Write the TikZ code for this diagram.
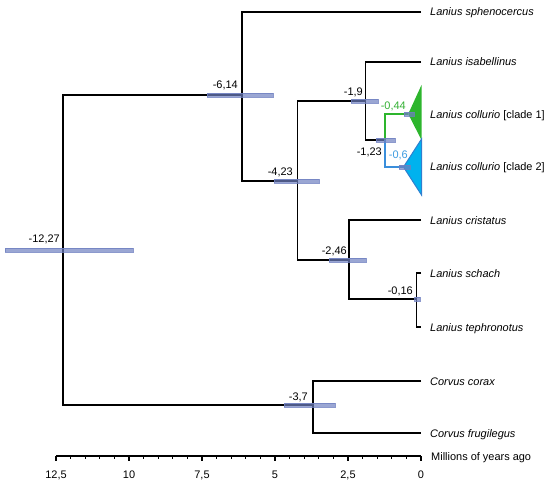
\documentclass[tikz,border=0pt]{standalone}
\usepackage{fontspec}
\setmainfont{Liberation Sans}
\definecolor{cgreen}{HTML}{2DB52D}
\definecolor{cgreentxt}{HTML}{33B033}
\definecolor{cblue}{HTML}{3A8EDB}
\definecolor{cbluefill}{HTML}{00B2EE}
\definecolor{cbluedraw}{HTML}{2F7FCF}
\definecolor{cbluetxt}{HTML}{3C9BE0}
\definecolor{hpdcol}{HTML}{6F80C0}
\begin{document}
\begin{tikzpicture}[x=1bp,y=-1bp,
  txt/.style={font=\fontsize{11}{13}\selectfont, inner sep=0pt},
  tip/.style={txt, anchor=base west},
  age/.style={txt, anchor=base east},
  branch/.style={line width=1.6bp, black},
  hpd/.style={fill=hpdcol, fill opacity=0.7, draw=hpdcol, draw opacity=0.8, line width=0.4bp},
  axisline/.style={line width=1.4bp, black}]
\useasboundingbox (0,0) rectangle (550,487);

% internal nodes
\coordinate (n1) at (62.7,250);
\coordinate (n2) at (241.7,95);
\coordinate (n3) at (297.5,181);
\coordinate (n4) at (365.5,101);
\coordinate (n5) at (385.1,140);
\coordinate (n6) at (408.2,114);
\coordinate (n7) at (403.5,167);
\coordinate (n8) at (349.2,260);
\coordinate (n9) at (416.3,299);
\coordinate (n10) at (313,405);
% tips
\coordinate (t1) at (421,12);
\coordinate (t2) at (421,62);
\coordinate (t5) at (421,220);
\coordinate (t6) at (421,273);
\coordinate (t7) at (421,327);
\coordinate (t8) at (421,381);
\coordinate (t9) at (421,433);
\coordinate (g1) at (421.5,85);
\coordinate (g2) at (421.5,140);
\coordinate (b1) at (421.5,139);
\coordinate (b2) at (421.5,195);

% collapsed clades
\fill[cgreen] (n6) -- (g1) -- (g2) -- cycle;
\filldraw[fill=cbluefill, draw=cbluedraw, line width=1bp] (n7) -- (b1) -- (b2) -- cycle;

% branches
\draw[branch] (n2) -| (n1) |- (n10);
\draw[branch] (t1) -| (n2) |- (n3);
\draw[branch] (n4) -| (n3) |- (n8);
\draw[branch] (t2) -| (n4) |- (n5);
\draw[line width=1.6bp, cgreen] (n6) -| (n5);
\draw[line width=1.6bp, cblue] (n5) |- (n7);
\draw[branch] (t5) -| (n8) |- (n9);
\draw[branch] (t6) -| (n9) |- (t7);
\draw[branch] (t8) -| (n10) |- (t9);

% HPD bars
\path[hpd] (5,248) rectangle (133,252);
\path[hpd] (207,93) rectangle (273,97);
\path[hpd] (274,179) rectangle (319,183);
\path[hpd] (351,99) rectangle (378,103);
\path[hpd] (376,138) rectangle (395,142);
\path[hpd] (404,112) rectangle (414,116);
\path[hpd] (399,165) rectangle (410,169);
\path[hpd] (329,258) rectangle (366,262);
\path[hpd] (414.5,297) rectangle (420,301);
\path[hpd] (284,403) rectangle (335,407);

% node ages
\node[age] (a1) at (60,242) {-12,27};
\node[age] (a2) at (238,89) {-6,14};
\node[age] (a3) at (293,176) {-4,23};
\node[age] (a4) at (363,96) {-1,9};
\node[age] (a5) at (382,156) {-1,23};
\node[age, text=cgreentxt] (a6) at (406,110) {-0,44};
\node[age, text=cbluetxt] (a7) at (408,159) {-0,6};
\node[age] (a8) at (347,254) {-2,46};
\node[age] (a9) at (413,294) {-0,16};
\node[age] (a10) at (308,400) {-3,7};

% tip labels
\node[tip] (s1) at (430,16) {\textit{Lanius sphenocercus}};
\node[tip] (s2) at (430,66) {\textit{Lanius isabellinus}};
\node[tip] (s3) at (430,119) {\textit{Lanius collurio} [clade 1]};
\node[tip] (s4) at (430,171) {\textit{Lanius collurio} [clade 2]};
\node[tip] (s5) at (430,224) {\textit{Lanius cristatus}};
\node[tip] (s6) at (430,277) {\textit{Lanius schach}};
\node[tip] (s7) at (430,331) {\textit{Lanius tephronotus}};
\node[tip] (s8) at (430,385) {\textit{Corvus corax}};
\node[tip] (s9) at (430,437) {\textit{Corvus frugilegus}};

% time axis
\coordinate (ax0) at (56,456);
\coordinate (ax1) at (421,456);
\draw[axisline] (ax0) -- (ax1);
\foreach \i in {0,...,25} {
  \draw[line width=1bp] ({56+14.6*\i},456) -- ++(0,2.5);
}
\foreach \i/\lab in {0/{12,5},1/10,2/{7,5},3/5,4/{2,5},5/0} {
  \draw[line width=1.2bp] ({56+73*\i},456) -- ++(0,4.5);
  \node[txt, anchor=base] (tk\i) at ({56+73*\i},478) {\lab};
}
\node[txt, anchor=base west] (axlab) at (431,460) {Millions of years ago};
\end{tikzpicture}
\end{document}
